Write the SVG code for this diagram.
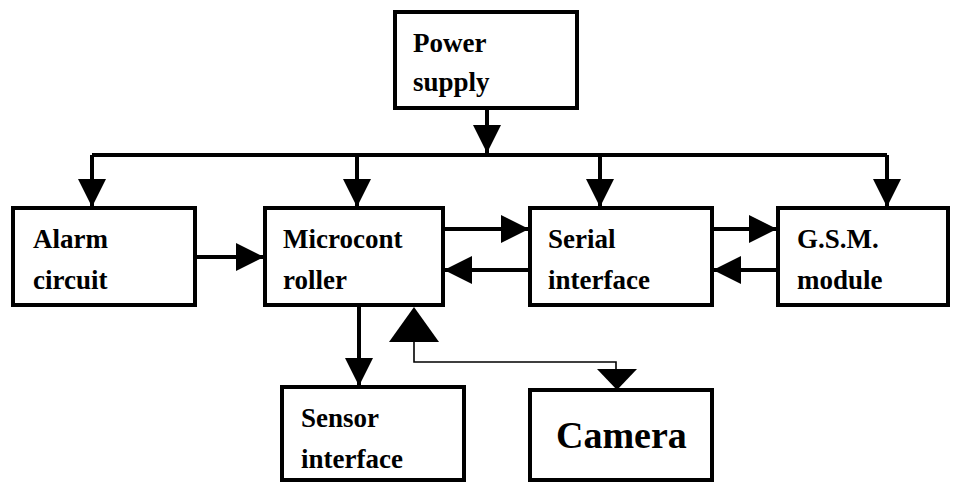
<svg xmlns="http://www.w3.org/2000/svg" width="953" height="485" viewBox="0 0 953 485">
<style>
.box{fill:#fff;stroke:#000;stroke-width:4}
.c{fill:none;stroke:#000;stroke-width:4}
.thin{fill:none;stroke:#000;stroke-width:1.6}
</style>
<defs>
<marker id="ah" markerUnits="userSpaceOnUse" markerWidth="30" markerHeight="30" refX="28" refY="14" orient="auto">
<path d="M0,0 L28,14 L0,28 z" fill="#000"/>
</marker>
</defs>
<rect width="953" height="485" fill="#fff"/>
<g id="connectors">
<line class="c" x1="487" y1="108" x2="487" y2="153" marker-end="url(#ah)"/>
<line class="c" x1="92" y1="155" x2="887" y2="155"/>
<line class="c" x1="92" y1="155" x2="92" y2="207" marker-end="url(#ah)"/>
<line class="c" x1="357" y1="155" x2="357" y2="207" marker-end="url(#ah)"/>
<line class="c" x1="600" y1="155" x2="600" y2="207" marker-end="url(#ah)"/>
<line class="c" x1="887" y1="155" x2="887" y2="207" marker-end="url(#ah)"/>
<line class="c" x1="195" y1="257" x2="264" y2="257" marker-end="url(#ah)"/>
<line class="c" x1="440" y1="229" x2="529" y2="229" marker-end="url(#ah)"/>
<line class="c" x1="530" y1="270" x2="444" y2="270" marker-end="url(#ah)"/>
<line class="c" x1="712" y1="229" x2="777" y2="229" marker-end="url(#ah)"/>
<line class="c" x1="778" y1="270" x2="713" y2="270" marker-end="url(#ah)"/>
<line class="c" x1="359" y1="305" x2="359" y2="386" marker-end="url(#ah)"/>
<polyline class="thin" points="414,340 414,362 616,362 616,372"/>
<polygon points="414,307 389,342 439,342" fill="#000"/>
<polygon points="597,369 637,369 617,390" fill="#000"/>
</g>
<g font-family="Liberation Serif, serif" font-weight="bold" font-size="27">
<g id="power">
<rect class="box" x="395" y="12" width="182" height="96"/>
<text x="413" y="52">Power</text>
<text x="413" y="91">supply</text>
</g>
<g id="alarm">
<rect class="box" x="13" y="208" width="182" height="97"/>
<text x="33" y="248">Alarm</text>
<text x="33" y="289">circuit</text>
</g>
<g id="micro">
<rect class="box" x="265" y="208" width="178" height="97"/>
<text x="283" y="248">Microcont</text>
<text x="283" y="289">roller</text>
</g>
<g id="serial">
<rect class="box" x="530" y="208" width="182" height="97"/>
<text x="548" y="248">Serial</text>
<text x="548" y="289">interface</text>
</g>
<g id="gsm">
<rect class="box" x="778" y="208" width="170" height="97"/>
<text x="797" y="248">G.S.M.</text>
<text x="797" y="289">module</text>
</g>
<g id="sensor">
<rect class="box" x="282" y="387" width="182" height="93"/>
<text x="301" y="427">Sensor</text>
<text x="301" y="468">interface</text>
</g>
<g id="camera">
<rect class="box" x="530" y="390" width="182" height="90"/>
<text x="556" y="448" font-size="38">Camera</text>
</g>
</g>
</svg>
